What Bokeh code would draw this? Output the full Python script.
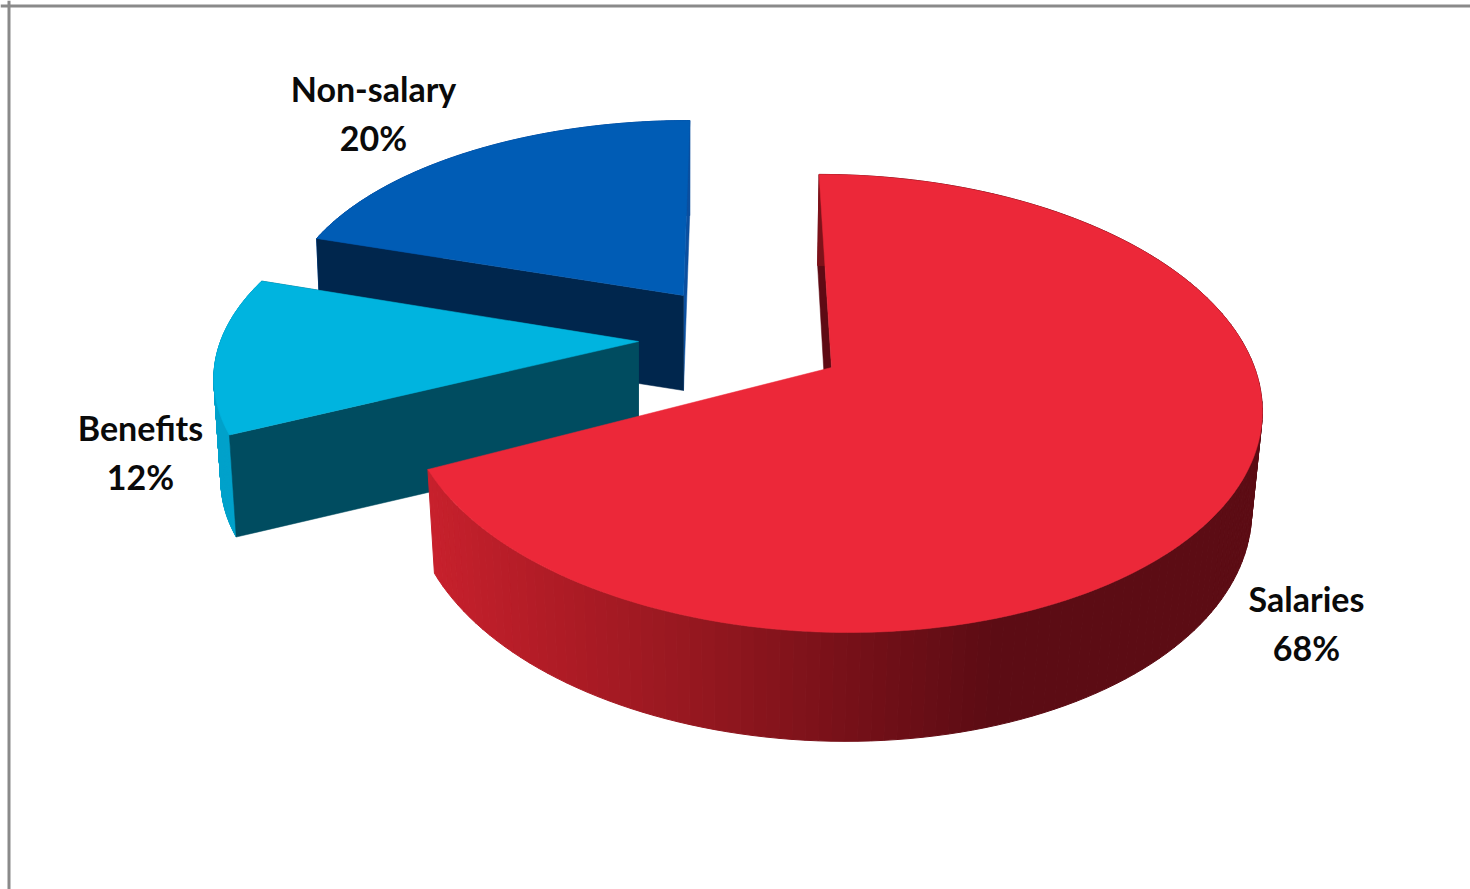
import numpy as np
from bokeh.embed import file_html
from bokeh.models import Range1d, Span
from bokeh.plotting import figure
from bokeh.resources import INLINE
from bokeh.core.properties import value

# Budget shares, laid out clockwise from twelve o'clock
categories = ["Salaries", "Benefits", "Non-salary"]
shares = [68, 12, 20]
percent_labels = ["68%", "12%", "20%"]

# Perspective of the pie plane
top_colors = ["#ec2839", "#00b4df", "#005cb5"]
start_wall_colors = ["#5e0a14", "#004c60", "#00264d"]
end_wall_colors = ["#5e0a14", "#004c60", "#0b4f9f"]
rim_colors = [None, "#00a2cb", "#0b4f9f"]

# Each exploded slice: apex x, apex y, radius x, radius y, shear, foreshortening
top_faces = [
    (831, 367, 423, 223.4, -0.034, 0.157),
    (638, 341, 418, 205.0, 0.020, 0.157),
    (683, 295, 397.5, 189.0, 0.017, 0.080),
]
bottom_faces = [
    (829, 467, 415, 232.5, -0.033, 0.151),
    (638, 443, 411, 205.0, 0.020, 0.157),
    (683, 390, 393, 189.0, 0.017, 0.080),
]

# Shading of the red rim, by horizontal page position
rim_x = [430, 560, 700, 850, 1000, 1260]
rim_r = [200, 176, 150, 120, 92, 92]
rim_g = [33, 28, 24, 17, 12, 12]
rim_b = [45, 38, 32, 25, 20, 20]


def project(face, theta):
    cx, cy, rx, ry, shear, k = face
    u, v = np.sin(theta), np.cos(theta)
    d = 1 + k * v
    return cx + rx * (u + shear * v) / d, cy - ry * v / d


def arc(face, a, b, n=160):
    return project(face, np.linspace(a, b, n))


def rim_shade(x):
    r = np.interp(x, rim_x, rim_r)
    g = np.interp(x, rim_x, rim_g)
    b = np.interp(x, rim_x, rim_b)
    return "#%02x%02x%02x" % (int(r), int(g), int(b))


p = figure(width=1470, height=889, output_backend="svg", toolbar_location=None,
           x_range=Range1d(0, 1470), y_range=Range1d(889, 0),
           min_border=0, outline_line_color=None, background_fill_color="white",
           border_fill_color="white")
p.axis.visible = False
p.grid.visible = False


def draw_wall(top, bottom, theta, color):
    xt, yt = project(top, theta)
    xb, yb = project(bottom, theta)
    p.patch([xt, top[0], bottom[0], xb], [yt, top[1], bottom[1], yb],
            fill_color=color, line_color=color, line_width=0.5)


def draw_rim(top, bottom, a, b, color):
    xt, yt = arc(top, a, b)
    xb, yb = arc(bottom, a, b)
    xs, ys, fills = [], [], []
    for i in range(len(xt) - 1):
        xs.append([xt[i], xt[i + 1], xb[i + 1], xb[i]])
        ys.append([yt[i], yt[i + 1], yb[i + 1], yb[i]])
        fills.append(color or rim_shade((xt[i] + xb[i]) / 2))
    p.patches(xs, ys, fill_color=fills, line_color=fills, line_width=1)


def draw_top(top, a, b, color):
    x, y = arc(top, a, b, 240)
    p.patch([top[0], *x], [top[1], *y], fill_color=color, line_color=color, line_width=0.5)


edges = 2 * np.pi * np.cumsum([0] + shares) / sum(shares)

# Slices are painted from the back of the pie to the front
for i in (2, 1, 0):
    a, b = edges[i], edges[i + 1]
    top, bottom = top_faces[i], bottom_faces[i]
    if i == 0:
        draw_wall(top, bottom, a, start_wall_colors[i])
        draw_rim(top, bottom, a, b, rim_colors[i])
    else:
        draw_rim(top, bottom, a, b, rim_colors[i])
        draw_wall(top, bottom, b, end_wall_colors[i])
        draw_wall(top, bottom, a, start_wall_colors[i])
    draw_top(top, a, b, top_colors[i])

label_x = [1306, 140, 373]
name_y = [598, 427, 88]
pct_y = [647, 476, 137]
font = dict(text_font=value("Lato"), text_font_style="bold", text_font_size="34px",
            text_align="center", text_baseline="middle", text_color="#0a0a0a")
p.text(label_x, name_y, text=categories, **font)
p.text(label_x, pct_y, text=percent_labels, **font)

# Frame around the chart area
p.add_layout(Span(location=8.5, dimension="height", line_color="#8a8a8a", line_width=3))
p.add_layout(Span(location=5.5, dimension="width", line_color="#8a8a8a", line_width=3))

open("out.html", "w").write(file_html(p, INLINE))
